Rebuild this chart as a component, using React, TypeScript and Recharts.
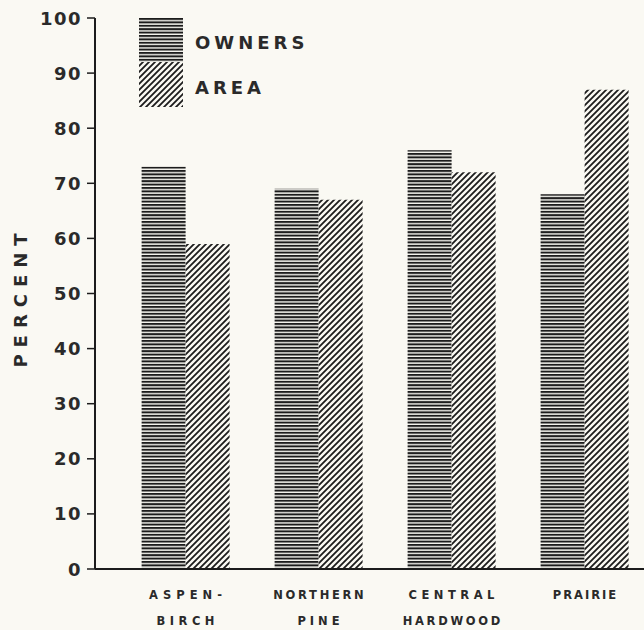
import React from "react";
import { BarChart, Bar, XAxis, YAxis } from "recharts";

const regions = ["ASPEN-|BIRCH", "NORTHERN|PINE", "CENTRAL|HARDWOOD", "PRAIRIE"];
const owners = [73, 69, 76, 68];
const area = [59, 67, 72, 87];
const yTicks = [0, 10, 20, 30, 40, 50, 60, 70, 80, 90, 100];

const data = regions.map((region, i) => ({
  region,
  owners: owners[i],
  area: area[i],
}));

const FONT = "'DejaVu Sans', Verdana, sans-serif";
const INK = "#1c1c1c";
const TEXT = "#2a2a2a";
const BG = "#faf9f3";

// letter spacing of the typewriter-ish category labels
const SPACING: Record<string, number> = {
  "ASPEN-": 5,
  BIRCH: 4.5,
  NORTHERN: 2.7,
  PINE: 4,
  CENTRAL: 4.5,
  HARDWOOD: 2.7,
  PRAIRIE: 2,
};

function PatternDefs({ prefix }: { prefix: string }) {
  return (
    <defs>
      <pattern id={`${prefix}-owners`} patternUnits="userSpaceOnUse" width={10} height={3.4}>
        <rect x={0} y={0} width={10} height={3.4} fill={BG} />
        <rect x={0} y={0} width={10} height={2} fill={INK} />
      </pattern>
      <pattern id={`${prefix}-area`} patternUnits="userSpaceOnUse" width={6} height={6}>
        <rect x={0} y={0} width={6} height={6} fill={BG} />
        <path d="M0,6 L6,0 M-1,1 L1,-1 M5,7 L7,5" stroke={INK} strokeWidth={1.8} />
      </pattern>
    </defs>
  );
}

const YTick = (props: any) => {
  const { x, y, payload } = props;
  return (
    <text
      x={x - 3}
      y={y}
      dy={6.5}
      textAnchor="end"
      fontFamily={FONT}
      fontWeight="bold"
      fontSize={18}
      letterSpacing={1.5}
      fill={TEXT}
    >
      {payload.value}
    </text>
  );
};

const XTick = (props: any) => {
  const { x, payload } = props;
  const lines = String(payload.value).split("|");
  return (
    <g>
      {lines.map((line, i) => {
        const s = SPACING[line] ?? 3;
        return (
          <text
            key={i}
            x={x + s / 2}
            y={599 + i * 26}
            textAnchor="middle"
            fontFamily={FONT}
            fontWeight="bold"
            fontSize={11.5}
            letterSpacing={s}
            fill={TEXT}
          >
            {line}
          </text>
        );
      })}
    </g>
  );
};

const YLabel = () => (
  <text
    transform="translate(27 297) rotate(-90)"
    textAnchor="middle"
    fontFamily={FONT}
    fontWeight="bold"
    fontSize={18}
    letterSpacing={7}
    fill={TEXT}
  >
    PERCENT
  </text>
);

const LegendBox = () => (
  <svg
    width={200}
    height={92}
    style={{ position: "absolute", left: 139, top: 18 }}
  >
    <PatternDefs prefix="lg" />
    <rect x={0} y={0} width={44} height={44} fill="url(#lg-owners)" />
    <rect x={0} y={44} width={44} height={45} fill="url(#lg-area)" />
    <text x={56} y={31} fontFamily={FONT} fontWeight="bold" fontSize={18} letterSpacing={4} fill={TEXT}>
      OWNERS
    </text>
    <text x={56} y={76} fontFamily={FONT} fontWeight="bold" fontSize={18} letterSpacing={4} fill={TEXT}>
      AREA
    </text>
  </svg>
);

export default function App() {
  return (
    <div
      style={{
        position: "absolute",
        left: 0,
        top: 0,
        width: 644,
        height: 630,
        overflow: "hidden",
        background: BG,
      }}
    >
      <BarChart
        width={660}
        height={630}
        data={data}
        margin={{ top: 18, right: 9, left: 0, bottom: 0 }}
        barCategoryGap="17%"
        barGap={0}
      >
        <PatternDefs prefix="ch" />
        <XAxis
          dataKey="region"
          height={61}
          padding={{ left: 24, right: 0 }}
          tickLine={false}
          axisLine={{ stroke: INK, strokeWidth: 2 }}
          tick={<XTick />}
          interval={0}
        />
        <YAxis
          width={95}
          domain={[0, 100]}
          ticks={yTicks}
          interval={0}
          tickSize={8}
          tickLine={{ stroke: INK, strokeWidth: 1.5 }}
          axisLine={{ stroke: INK, strokeWidth: 2 }}
          tick={<YTick />}
          label={<YLabel />}
        />
        <Bar dataKey="owners" fill="url(#ch-owners)" isAnimationActive={false} />
        <Bar dataKey="area" fill="url(#ch-area)" isAnimationActive={false} />
      </BarChart>
      <LegendBox />
    </div>
  );
}
